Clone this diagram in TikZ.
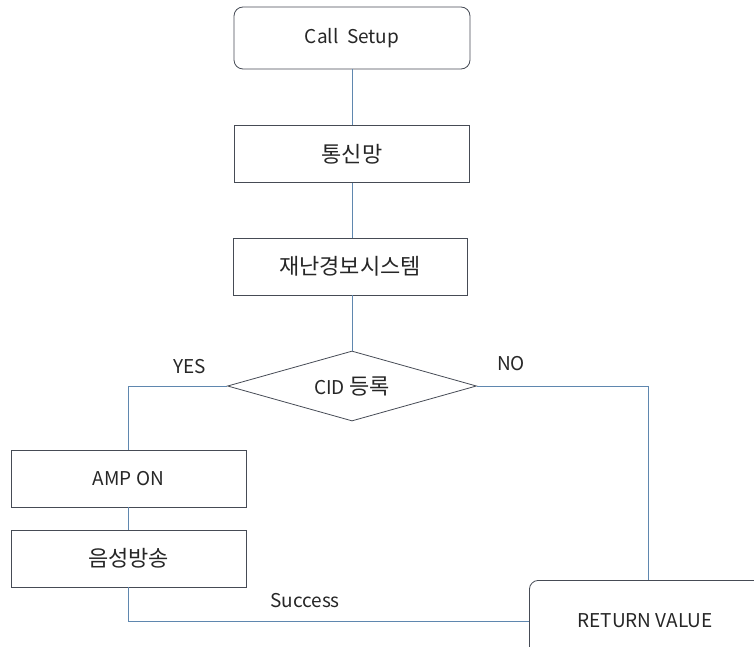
\documentclass[tikz,border=0pt]{standalone}
\usepackage{fontspec}
\setmainfont{Noto Sans CJK KR}
\usetikzlibrary{shapes.geometric}
\definecolor{linec}{RGB}{95,135,175}
\definecolor{boxc}{RGB}{70,75,85}
\newcommand\krtext[1]{{\fontsize{22}{24}\selectfont #1}}
\begin{document}
\begin{tikzpicture}[x=1pt,y=-1pt,
  every node/.style={font=\fontsize{19}{22}\selectfont, text=black!85},
  box/.style={draw=boxc, line width=0.8pt, inner sep=0pt, minimum width=235pt, minimum height=57pt},
  rbox/.style={box, rounded corners=9pt},
  dia/.style={draw=boxc, line width=0.8pt, shape=diamond, inner sep=0pt, minimum width=249pt, minimum height=70pt},
  conn/.style={draw=linec, line width=0.9pt},
  lbl/.style={inner sep=0pt}]
\useasboundingbox (0,0) rectangle (754,647);
\begin{scope}
\clip (0,0) rectangle (754,647);
\node[rbox, minimum width=236pt, minimum height=62pt] (call) at (352,38) {Call\ \ Setup};
\node[box] (net) at (352,154) {\krtext{통신망}};
\node[box, minimum width=234pt] (sys) at (350,266.5) {\krtext{재난경보시스템}};
\node[dia] (cid) at (352,386) {};
\node[lbl] (cidtext) at (352,386) {CID \krtext{등록}};
\node[box] (amp) at (128.5,478.5) {AMP ON};
\node[box] (voice) at (128.5,558.5) {\krtext{음성방송}};
\node[rbox, minimum width=240pt, minimum height=84pt, anchor=north west] (ret) at (529,580) {};
\node[lbl] (rettext) at (645,621) {RETURN VALUE};
\coordinate (yesc) at (128,386);
\coordinate (noc) at (648,386);
\coordinate (succ) at (128,621);
\coordinate (retin) at (529,621);
\coordinate (rettop) at (648,580);
\path[conn] (call.south) -- (net.north);
\path[conn] (net.south) -- (net.south |- sys.north);
\path[conn] (cid.north |- sys.south) -- (cid.north);
\path[conn] (cid.west) -- (yesc) -- (amp.north -| yesc);
\path[conn] (amp.south -| yesc) -- (voice.north -| yesc);
\path[conn] (voice.south -| succ) -- (succ) -- (retin);
\path[conn] (cid.east) -- (noc) -- (rettop);
\node[lbl] (yes) at (190,367) {YES};
\node[lbl] (no) at (511,364) {NO};
\node[lbl] (success) at (305,601) {Success};
\end{scope}
\end{tikzpicture}
\end{document}
